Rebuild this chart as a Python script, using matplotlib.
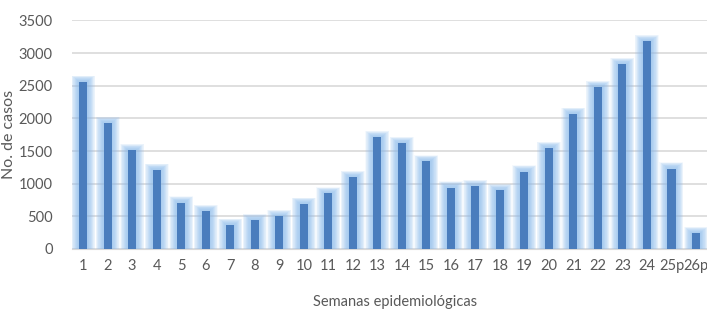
import matplotlib
matplotlib.use('Agg')
from matplotlib import pyplot as plt
import numpy as np

# Casos por semana epidemiologica
semanas = ['1', '2', '3', '4', '5', '6', '7', '8', '9', '10', '11', '12', '13',
           '14', '15', '16', '17', '18', '19', '20', '21', '22', '23', '24', '25p', '26p']
casos = [2560, 1930, 1510, 1210, 710, 580, 370, 440, 500, 690, 850, 1100, 1710,
         1620, 1340, 940, 960, 900, 1185, 1545, 2070, 2480, 2830, 3180, 1230, 240]

plt.rcParams['font.family'] = ['Lato', 'DejaVu Sans']
fig = plt.figure(figsize=(7.07, 3.10), dpi=100)
ax = fig.add_axes([0.102, 0.197, 0.898, 0.737])

x = np.arange(len(semanas))
y = np.array(casos)

# "resplandor" suave alrededor de cada barra (capas finas)
for t in np.linspace(0, 1, 14):
    w = 0.98 - 0.6 * t
    extra = 95 * (1 - t) ** 0.7
    ax.bar(x, y + extra, width=w, color='#8cbcef', alpha=0.085, zorder=2, linewidth=0)
ax.bar(x, y, width=0.33, color='#4a7dbd', zorder=3, linewidth=0)

ax.set_xlim(-0.45, len(semanas) - 0.55)
ax.set_ylim(0, 3500)
ax.set_yticks(np.arange(0, 3501, 500))
ax.set_xticks(x)
ax.set_xticklabels(semanas)
ax.grid(axis='y', color='#d9d9d9', linewidth=1.2, zorder=0)
ax.set_axisbelow(True)
for s in ['top', 'right', 'left']:
    ax.spines[s].set_visible(False)
ax.spines['bottom'].set_color('#d9d9d9')
ax.tick_params(length=0, labelsize=10.5, colors='#595959')
ax.tick_params(axis='x', pad=7)
ax.tick_params(axis='y', pad=14)
ax.set_ylabel('No. de casos', fontsize=11.5, color='#595959')
ax.yaxis.set_label_coords(-0.088, 0.5)
ax.set_xlabel('Semanas epidemiológicas', fontsize=10.5, color='#595959')
ax.xaxis.set_label_coords(0.508, -0.2)

plt.savefig('out.png', dpi=100)
